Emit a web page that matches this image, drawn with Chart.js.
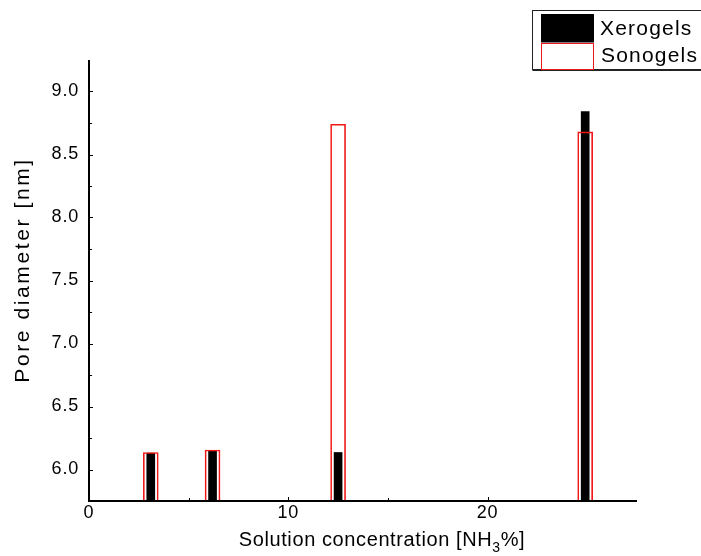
<!DOCTYPE html>
<html>
<head>
<meta charset="utf-8">
<script src="https://cdn.jsdelivr.net/npm/chart.js@4/dist/chart.umd.min.js"></script>
<style>
  html, body { margin: 0; padding: 0; background: #fff; }
  #wrap { width: 701px; height: 556px; }
</style>
</head>
<body>
<div id="wrap"><canvas id="chart" width="701" height="556"></canvas></div>
<script>
// Ammonia concentration of the solution [NH3 %]
const concentration = [3.1, 6.2, 12.5, 24.9];
// Pore diameter [nm]
const xerogelDiameter = [6.13, 6.15, 6.135, 8.84];
const sonogelDiameter = [6.135, 6.155, 8.74, 8.68];
const seriesNames = ['Xerogels', 'Sonogels'];
const xTickValues = [0, 10, 20];
const xMinorValues = [5, 15, 25];
const yTickValues = [6.0, 6.5, 7.0, 7.5, 8.0, 8.5, 9.0];
const yMinorValues = [6.25, 6.75, 7.25, 7.75, 8.25, 8.75];

const FONT = '"Liberation Sans", Arial, sans-serif';

const toPoints = (ys) => ys.map((y, i) => ({ x: concentration[i], y }));

// Axis lines, inward tick marks, axis titles and the boxed legend
const decorations = {
  id: 'decorations',
  beforeDraw(chart) {
    chart.ctx.letterSpacing = '0.8px';
  },
  afterDatasetsDraw(chart) {
    const { ctx, chartArea: a, scales: { x, y } } = chart;
    ctx.save();
    ctx.strokeStyle = '#000';
    ctx.lineWidth = 1;
    const tick = (x1, y1, x2, y2) => { ctx.beginPath(); ctx.moveTo(x1, y1); ctx.lineTo(x2, y2); ctx.stroke(); };
    yTickValues.forEach(v => { const p = Math.round(y.getPixelForValue(v)) + 0.5; tick(a.left, p, a.left + 4, p); });
    yMinorValues.forEach(v => { const p = Math.round(y.getPixelForValue(v)) + 0.5; tick(a.left, p, a.left + 3, p); });
    xTickValues.forEach(v => { const p = Math.round(x.getPixelForValue(v)) + 0.5; tick(p, a.bottom, p, a.bottom - 4); });
    xMinorValues.forEach(v => { const p = Math.round(x.getPixelForValue(v)) + 0.5; tick(p, a.bottom, p, a.bottom - 3); });
    ctx.lineWidth = 2;
    ctx.beginPath();
    ctx.moveTo(a.left, a.top);
    ctx.lineTo(a.left, a.bottom);
    ctx.lineTo(a.right, a.bottom);
    ctx.stroke();
    ctx.restore();
  },
  afterDraw(chart) {
    const { ctx } = chart;
    const ds = chart.data.datasets;
    ctx.save();
    ctx.fillStyle = '#000';
    ctx.textBaseline = 'alphabetic';

    // y title
    ctx.save();
    ctx.font = '21px ' + FONT;
    ctx.letterSpacing = '2.6px';
    ctx.translate(28.5, 270);
    ctx.rotate(-Math.PI / 2);
    ctx.textAlign = 'center';
    ctx.fillText('Pore diameter [nm]', 0, 0);
    ctx.restore();

    // x title with subscript
    ctx.save();
    ctx.letterSpacing = '0.6px';
    const big = '20px ' + FONT, small = '14px ' + FONT;
    const p1 = 'Solution concentration [NH', p2 = '3', p3 = '%]';
    ctx.font = big; const w1 = ctx.measureText(p1).width, w3 = ctx.measureText(p3).width;
    ctx.font = small; const w2 = ctx.measureText(p2).width;
    let cx = 382 - (w1 + w2 + w3) / 2;
    const base = 546;
    ctx.textAlign = 'left';
    ctx.font = big; ctx.fillText(p1, cx, base); cx += w1;
    ctx.font = small; ctx.fillText(p2, cx, base + 6); cx += w2;
    ctx.font = big; ctx.fillText(p3, cx, base);
    ctx.restore();

    // legend
    const lx = 532.5, ly = 10.5;
    ctx.strokeStyle = '#222';
    ctx.lineWidth = 1;
    ctx.strokeRect(lx, ly, 200, 59);
    ctx.beginPath(); ctx.moveTo(lx, ly + 60); ctx.lineTo(720, ly + 60); ctx.stroke();
    ctx.fillStyle = ds[0].backgroundColor;
    ctx.fillRect(541, 14, 53, 28.5);
    ctx.strokeStyle = ds[1].borderColor;
    ctx.strokeRect(541.5, 43.5, 52, 26);
    ctx.fillStyle = '#000';
    ctx.font = '21px ' + FONT;
    ctx.letterSpacing = '1.2px';
    ctx.textBaseline = 'middle';
    ctx.textAlign = 'left';
    ctx.fillText(ds[0].label, 600, 29);
    ctx.fillText(ds[1].label, 601, 56);
    ctx.restore();
  }
};

new Chart(document.getElementById('chart'), {
  type: 'bar',
  data: {
    datasets: [
      {
        label: seriesNames[0],
        data: toPoints(xerogelDiameter),
        backgroundColor: '#000',
        borderWidth: 0,
        barThickness: 8,
        base: 5.75,
        order: 2
      },
      {
        label: seriesNames[1],
        data: toPoints(sonogelDiameter),
        backgroundColor: 'rgba(0,0,0,0)',
        borderColor: '#f01818',
        borderWidth: 1,
        barThickness: 15,
        base: 5.75,
        order: 1
      }
    ]
  },
  options: {
    responsive: false,
    animation: false,
    events: [],
    grouped: false,
    layout: { padding: { top: 60, right: 64, left: 0, bottom: 0 } },
    plugins: { legend: { display: false }, tooltip: { enabled: false } },
    scales: {
      x: {
        type: 'linear',
        offset: false,
        min: 0,
        max: 27.5,
        afterBuildTicks: s => { s.ticks = xTickValues.map(v => ({ value: v })); },
        afterFit: s => { s.height = 55; },
        grid: { display: false, offset: false },
        border: { display: false },
        ticks: {
          color: '#000',
          font: { family: FONT, size: 18 },
          padding: -7,
          maxRotation: 0,
          autoSkip: false,
          callback: v => String(v)
        }
      },
      y: {
        min: 5.75,
        max: 9.25,
        afterBuildTicks: s => { s.ticks = yTickValues.map(v => ({ value: v })); },
        afterFit: s => { s.width = 89; },
        grid: { display: false },
        border: { display: false },
        ticks: {
          color: '#000',
          font: { family: FONT, size: 18 },
          padding: 2,
          callback: v => v.toFixed(1)
        }
      }
    }
  },
  plugins: [decorations]
});
</script>
</body>
</html>
